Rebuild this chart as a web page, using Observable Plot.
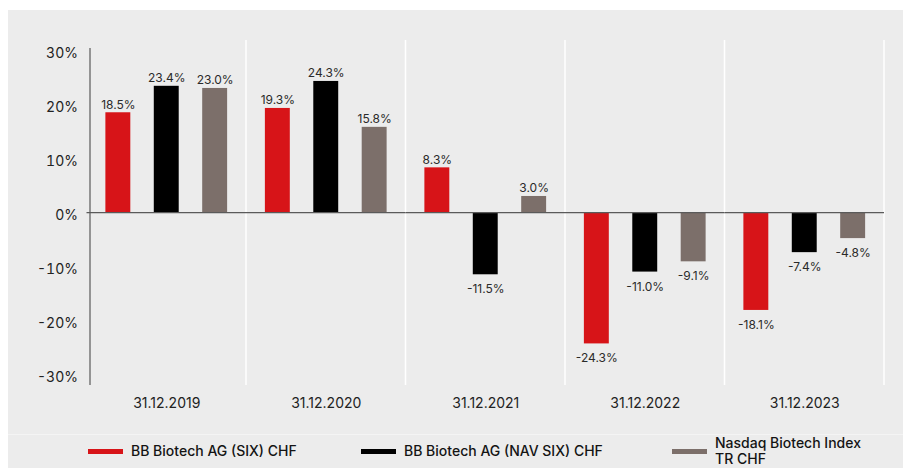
<!DOCTYPE html>
<html>
<head>
<meta charset="utf-8">
<script src="https://cdn.jsdelivr.net/npm/d3@7"></script>
<script src="https://cdn.jsdelivr.net/npm/@observablehq/plot@0.6"></script>
<style>
  html, body { margin: 0; padding: 0; background: #ffffff; overflow: hidden; }
  #page { position: relative; width: 903px; height: 468px; overflow: hidden; font-family: Inter, "Noto Sans", sans-serif; }
  #panel { position: absolute; left: 8px; top: 10px; width: 895px; height: 470px; background: #ececec; }
  #sep { position: absolute; left: 8px; top: 434px; width: 895px; height: 1px; background: #f4f4f4; }
  #chart { position: absolute; left: 0; top: 0; }
  #legend { position: absolute; left: 0; top: 435px; width: 903px; height: 32px; }
  .item { position: absolute; top: 0; height: 32px; display: flex; align-items: center; }
  .sw { width: 35px; height: 5px; margin-right: 8px; flex: none; }
  .lab { font-size: 14px; font-weight: 500; color: #141414; line-height: 16px; }
</style>
</head>
<body>
<div id="page">
  <div id="panel"></div>
  <div id="sep"></div>
  <div id="chart"></div>
  <div id="legend"></div>
</div>
<script>
const dates = ["31.12.2019", "31.12.2020", "31.12.2021", "31.12.2022", "31.12.2023"];
const series = ["BB Biotech AG (SIX) CHF", "BB Biotech AG (NAV SIX) CHF", "Nasdaq Biotech Index TR CHF"];
const sixValues = [18.5, 19.3, 8.3, -24.3, -18.1];
const navValues = [23.4, 24.3, -11.5, -11.0, -7.4];
const nbiValues = [23.0, 15.8, 3.0, -9.1, -4.8];
const yTicks = [30, 20, 10, 0, -10, -20, -30];
const colors = ["#d71418", "#000000", "#7c6f6a"];

const valuesBySeries = [sixValues, navValues, nbiValues];
const data = [];
dates.forEach((d, i) => {
  series.forEach((s, j) => {
    data.push({date: d, series: s, value: valuesBySeries[j][i]});
  });
});

const fmt = v => v.toFixed(1) + "%";

const plot = Plot.plot({
  width: 903,
  height: 434,
  marginLeft: 86.5,
  marginRight: 19,
  marginTop: 48,
  marginBottom: 49,
  style: {background: "transparent", fontFamily: "Inter, 'Noto Sans', sans-serif", fontSize: "14px", color: "#222"},
  fx: {domain: dates, padding: 0, round: false, label: null},
  x: {domain: series, paddingInner: 0.485, paddingOuter: 0.39, round: false, axis: null},
  y: {domain: [-32, 30.4], label: null},
  color: {domain: series, range: colors},
  marks: [
    Plot.axisY({ticks: yTicks, tickFormat: d => d + "%", tickSize: 0, tickPadding: 9, dy: 2.5, label: null, fontSize: 14, fill: "#222"}),
    Plot.axisFx({anchor: "bottom", tickSize: 0, tickPadding: 13, label: null, fontSize: 14, fill: "#222"}),
    Plot.barY(data, {fx: "date", x: "series", y: "value", fill: "series"}),
    Plot.ruleY([0], {stroke: "#5a5a5a", strokeWidth: 1.2}),
    Plot.text(data.filter(d => d.value >= 0), {fx: "date", x: "series", y: "value", text: d => fmt(d.value), lineAnchor: "bottom", dy: -4, fontSize: 12, fill: "#2a2a2a"}),
    Plot.text(data.filter(d => d.value < 0), {fx: "date", x: "series", y: "value", text: d => fmt(d.value), lineAnchor: "top", dy: 10, fontSize: 12, fill: "#2a2a2a"})
  ]
});

document.getElementById("chart").appendChild(plot);

// White separators at the date-band boundaries and the vertical y axis line, from the plot's scales
const fxS = plot.scale("fx");
const yS = plot.scale("y");
const svg = d3.select(plot);
const yTop = Math.min(...yS.range);
const yBot = Math.max(...yS.range);
const g = svg.insert("g", ":first-child");
dates.forEach((d, i) => {
  const xr = fxS.apply(d) + fxS.bandwidth;
  g.append("line").attr("x1", xr).attr("x2", xr).attr("y1", yTop - 8).attr("y2", yBot).attr("stroke", "#ffffff").attr("stroke-width", 1.5);
});
const x0 = fxS.apply(dates[0]) + 3.5;
svg.append("line").attr("x1", x0).attr("x2", x0).attr("y1", yTop).attr("y2", yBot).attr("stroke", "#5a5a5a").attr("stroke-width", 1.2);

// Legend
const legendPos = [88, 361, 672];
const legend = document.getElementById("legend");
series.forEach((s, i) => {
  const it = document.createElement("div");
  it.className = "item";
  it.style.left = legendPos[i] + "px";
  const sw = document.createElement("div");
  sw.className = "sw";
  sw.style.background = colors[i];
  const lab = document.createElement("div");
  lab.className = "lab";
  lab.textContent = s;
  if (i === 2) lab.style.width = "160px";
  it.appendChild(sw);
  it.appendChild(lab);
  legend.appendChild(it);
});
</script>
</body>
</html>
